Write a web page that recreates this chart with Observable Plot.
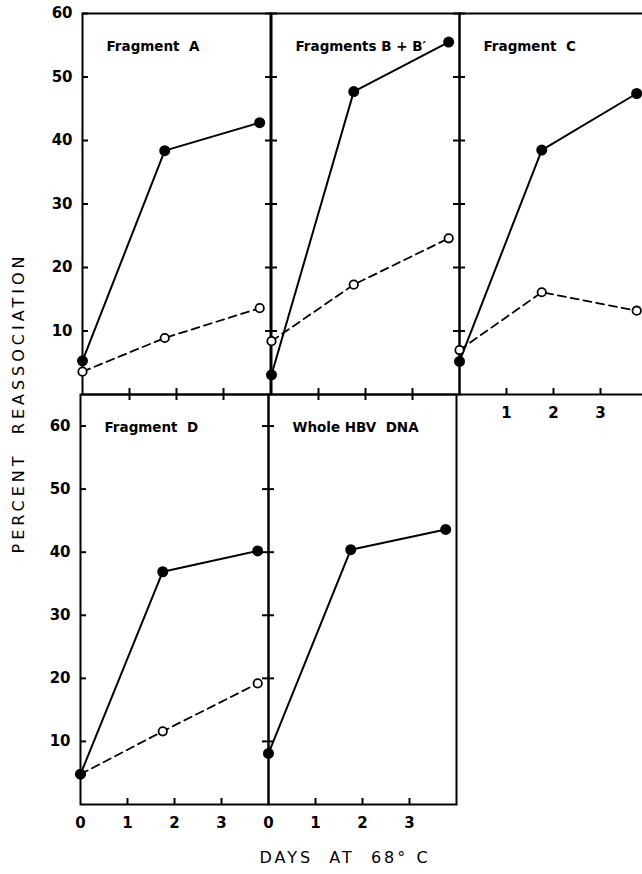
<!DOCTYPE html>
<html>
<head>
<meta charset="utf-8">
<script src="https://cdn.jsdelivr.net/npm/d3@7"></script>
<script src="https://cdn.jsdelivr.net/npm/@observablehq/plot@0.6"></script>
<style>
html, body { margin: 0; padding: 0; background: #fff; overflow: hidden; }
#fig { position: relative; width: 642px; height: 874px; overflow: hidden; color: #000; font-family: "DejaVu Sans", sans-serif; }
#fig svg { position: absolute; overflow: visible; }
#fig svg text { white-space: pre; }
.axis-title { position: absolute; font-family: "DejaVu Sans", sans-serif; font-size: 16px; letter-spacing: 4px; white-space: pre; color: #000; line-height: 20px; text-align: center; }
</style>
</head>
<body>
<div id="fig"></div>
<script>
// ---- data ----
const days = [0, 1.75, 3.77];
const panelNames = ["Fragment  A", "Fragments B + B\u2032", "Fragment  C", "Fragment  D", "Whole HBV  DNA"];
const filledA = [5.3, 38.4, 42.8];
const openA   = [3.6, 8.9, 13.6];
const filledB = [3.1, 47.7, 55.5];
const openB   = [8.4, 17.3, 24.6];
const filledC = [5.2, 38.5, 47.4];
const openC   = [7.0, 16.1, 13.2];
const filledD = [4.8, 36.9, 40.2];
const openD   = [4.8, 11.6, 19.2];
const filledWhole = [8.1, 40.4, 43.6];
const yTicks = [10, 20, 30, 40, 50, 60];
const xTickMarks = [1, 2, 3];
const xTickLabels = [0, 1, 2, 3];
const xTickLabelsC = [1, 2, 3];
const yTitle = "PERCENT  REASSOCIATION";
const xTitle = "DAYS  AT  68\u00b0 C";

// ---- layout ----
const W = 188, ML = 60, MR = 10, MT = 10, MB = 40;
const panels = [
  {name: panelNames[0], filled: filledA, open: openA, left: 82, top: 13, h: 381, yMax: 60, leftAxis: "labels", bottom: "cross", xLabels: null},
  {name: panelNames[1], filled: filledB, open: openB, left: 271, top: 13, h: 381, yMax: 60, leftAxis: "cross", bottom: "cross", xLabels: null},
  {name: panelNames[2], filled: filledC, open: openC, left: 459, top: 13, h: 381, yMax: 60, leftAxis: "cross", bottom: "up", xLabels: xTickLabelsC},
  {name: panelNames[3], filled: filledD, open: openD, left: 80, top: 394, h: 410, yMax: 65, leftAxis: "labels", bottom: "up", xLabels: xTickLabels},
  {name: panelNames[4], filled: filledWhole, open: null, left: 268, top: 394, h: 410, yMax: 65, leftAxis: "cross", bottom: "up", xLabels: xTickLabels}
];

const fig = document.getElementById("fig");
const numFont = {fontSize: 15, fontWeight: "bold"};

for (const p of panels) {
  const yt = yTicks.filter(v => v <= p.yMax);
  const marks = [];
  // left-edge ticks
  marks.push(Plot.axisY(yt, {anchor: "left", tickSize: -6, strokeWidth: 2, fill: "none", label: null}));
  if (p.leftAxis === "cross") {
    marks.push(Plot.axisY(yt, {anchor: "left", tickSize: 6, strokeWidth: 2, fill: "none", label: null}));
  } else {
    marks.push(Plot.axisY(yt, {anchor: "left", tickSize: 0, tickPadding: 10, label: null, ...numFont}));
  }
  // bottom-edge ticks
  marks.push(Plot.axisX(xTickMarks, {anchor: "bottom", tickSize: -6, strokeWidth: 2, fill: "none", label: null}));
  if (p.bottom === "cross") {
    marks.push(Plot.axisX(xTickMarks, {anchor: "bottom", tickSize: 6, strokeWidth: 2, fill: "none", label: null}));
  }
  if (p.xLabels) {
    marks.push(Plot.axisX(p.xLabels, {anchor: "bottom", tickSize: 0, tickPadding: 13, label: null, ...numFont}));
  }
  marks.push(Plot.frame({stroke: "black", strokeWidth: 2}));
  // series
  const fRows = days.map((d, i) => ({day: d, pct: p.filled[i]}));
  if (p.open) {
    const oRows = days.map((d, i) => ({day: d, pct: p.open[i]}));
    marks.push(Plot.line(oRows, {x: "day", y: "pct", stroke: "black", strokeWidth: 1.8, strokeDasharray: "8,5"}));
    marks.push(Plot.line(fRows, {x: "day", y: "pct", stroke: "black", strokeWidth: 2}));
    marks.push(Plot.dot(oRows, {x: "day", y: "pct", r: 4.2, fill: "white", stroke: "black", strokeWidth: 1.8}));
  } else {
    marks.push(Plot.line(fRows, {x: "day", y: "pct", stroke: "black", strokeWidth: 2}));
  }
  marks.push(Plot.dot(fRows, {x: "day", y: "pct", r: 5.5, fill: "black"}));
  // panel title
  marks.push(Plot.text([p.name], {frameAnchor: "top-left", dx: 24, dy: 28, textAnchor: "start", fontSize: 13.5, fontWeight: "bold", text: d => d}));

  const svg = Plot.plot({
    width: ML + W + MR,
    height: MT + p.h + MB,
    marginLeft: ML, marginRight: MR, marginTop: MT, marginBottom: MB,
    x: {domain: [0, 4], axis: null},
    y: {domain: [0, p.yMax], axis: null},
    style: {background: "transparent", overflow: "visible", fontFamily: "DejaVu Sans, sans-serif", color: "black"},
    marks
  });
  svg.style.left = (p.left - ML) + "px";
  svg.style.top = (p.top - MT) + "px";
  svg.style.maxWidth = "none";
  fig.appendChild(svg);
}

// axis titles
const yl = document.createElement("div");
yl.className = "axis-title";
yl.textContent = yTitle;
yl.style.width = "400px";
yl.style.left = (19 - 200) + "px";
yl.style.top = (403 - 10) + "px";
yl.style.transform = "rotate(-90deg)";
fig.appendChild(yl);

const xl = document.createElement("div");
xl.className = "axis-title";
xl.textContent = xTitle;
xl.style.width = "300px";
xl.style.letterSpacing = "3px";
xl.style.left = (345 - 150) + "px";
xl.style.top = (858 - 10) + "px";
fig.appendChild(xl);
</script>
</body>
</html>
